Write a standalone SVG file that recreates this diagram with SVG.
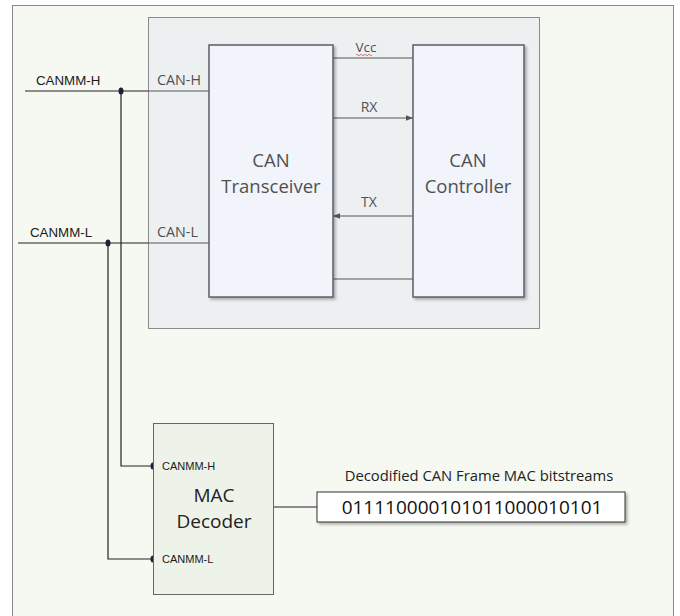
<svg xmlns="http://www.w3.org/2000/svg" width="680" height="616" viewBox="0 0 680 616">
<defs>
<style>
.t{font-family:"Open Sans","Liberation Sans",sans-serif;fill:#505050}
.k{font-family:"Liberation Sans",Arial,sans-serif;fill:#1a1a1a}
.w{stroke:#555;stroke-width:1;fill:none}
.b{stroke:#222;stroke-width:1.2;fill:none}
.blk{fill:#f1f4fa;stroke:#5a5f66;stroke-width:1.5}
</style>
<filter id="sh" x="-10%" y="-10%" width="130%" height="130%">
<feDropShadow dx="2" dy="2" stdDeviation="1.5" flood-color="#000" flood-opacity="0.3"/>
</filter>
<marker id="ar" viewBox="0 0 10 10" refX="10" refY="5" markerWidth="7" markerHeight="7" orient="auto">
<path d="M0,1 L10,5 L0,9 z" fill="#555"/>
</marker>
</defs>
<rect x="0" y="0" width="680" height="616" fill="#ffffff"/>
<rect id="frame" x="12.5" y="5.5" width="661" height="620" fill="#f6f8f2" stroke="#8a8a8a" stroke-width="1"/>
<rect id="module" x="148.5" y="17.5" width="391" height="311" fill="#edf0f1" stroke="#8a8a8a" stroke-width="1"/>
<g id="connectors">
<line class="w" x1="333" y1="58" x2="413" y2="58"/>
<line class="w" x1="333" y1="118" x2="413" y2="118" marker-end="url(#ar)"/>
<line class="w" x1="413" y1="216" x2="333" y2="216" marker-end="url(#ar)"/>
<line class="w" x1="333" y1="279" x2="413" y2="279"/>
<line class="b" x1="25" y1="91" x2="148" y2="91"/>
<line class="w" x1="148" y1="91" x2="209" y2="91"/>
<line class="b" x1="18" y1="243" x2="148" y2="243"/>
<line class="w" x1="148" y1="243" x2="209" y2="243"/>
<polyline class="b" points="121,91 121,466 153,466"/>
<polyline class="b" points="108,243 108,559 153,559"/>
<line class="b" x1="274" y1="507" x2="317" y2="507"/>
<ellipse cx="121" cy="91" rx="2.5" ry="3.5" fill="#1a2238"/>
<ellipse cx="108" cy="243" rx="2.5" ry="3.5" fill="#1a2238"/>
<ellipse cx="153" cy="466" rx="2.5" ry="3.5" fill="#1a2238"/>
<ellipse cx="153" cy="559" rx="2.5" ry="3.5" fill="#1a2238"/>
</g>
<g id="labels">
<text class="k" x="36" y="85" font-size="13.3">CANMM-H</text>
<text class="k" x="30" y="237" font-size="13.3">CANMM-L</text>
<text class="t" x="157" y="85" font-size="14.3">CAN-H</text>
<text class="t" x="157" y="237" font-size="14.3">CAN-L</text>
<text class="t" x="366" y="52" font-size="13.5" text-anchor="middle">Vcc</text>
<path d="M356,55 q1,-1.5 2,0 t2,0 t2,0 t2,0 t2,0 t2,0 t2,0 t2,0" stroke="#e05050" stroke-width="0.8" fill="none"/>
<text class="t" x="369" y="112" font-size="14" text-anchor="middle">RX</text>
<text class="t" x="369" y="207" font-size="14" text-anchor="middle">TX</text>
</g>
<g id="transceiver">
<rect class="blk" x="209" y="45" width="124" height="252" filter="url(#sh)"/>
<text class="t" x="271" y="167" font-size="18.5" text-anchor="middle">CAN</text>
<text class="t" x="271" y="193" font-size="18.5" text-anchor="middle">Transceiver</text>
</g>
<g id="controller">
<rect class="blk" x="413" y="45" width="111" height="252" filter="url(#sh)"/>
<text class="t" x="468" y="167" font-size="18.5" text-anchor="middle">CAN</text>
<text class="t" x="468" y="193" font-size="18.5" text-anchor="middle">Controller</text>
</g>
<g id="mac-decoder">
<rect x="153.5" y="423.5" width="120" height="171" fill="#eef3ea" stroke="#666" stroke-width="1"/>
<text class="k" x="162" y="470" font-size="11">CANMM-H</text>
<text class="k" x="162" y="563" font-size="11">CANMM-L</text>
<text class="t" x="214" y="502" font-size="19" text-anchor="middle" style="fill:#222">MAC</text>
<text class="t" x="214" y="528" font-size="19" text-anchor="middle" style="fill:#222">Decoder</text>
</g>
<g id="bitstream">
<text class="t" x="479" y="481" font-size="14.8" text-anchor="middle" style="fill:#222">Decodified CAN Frame MAC bitstreams</text>
<rect x="317" y="492" width="308" height="30" fill="#ffffff" stroke="#333" stroke-width="1" filter="url(#sh)"/>
<text class="t" x="472" y="514" font-size="19" text-anchor="middle" style="fill:#111">011110000101011000010101</text>
</g>
</svg>
